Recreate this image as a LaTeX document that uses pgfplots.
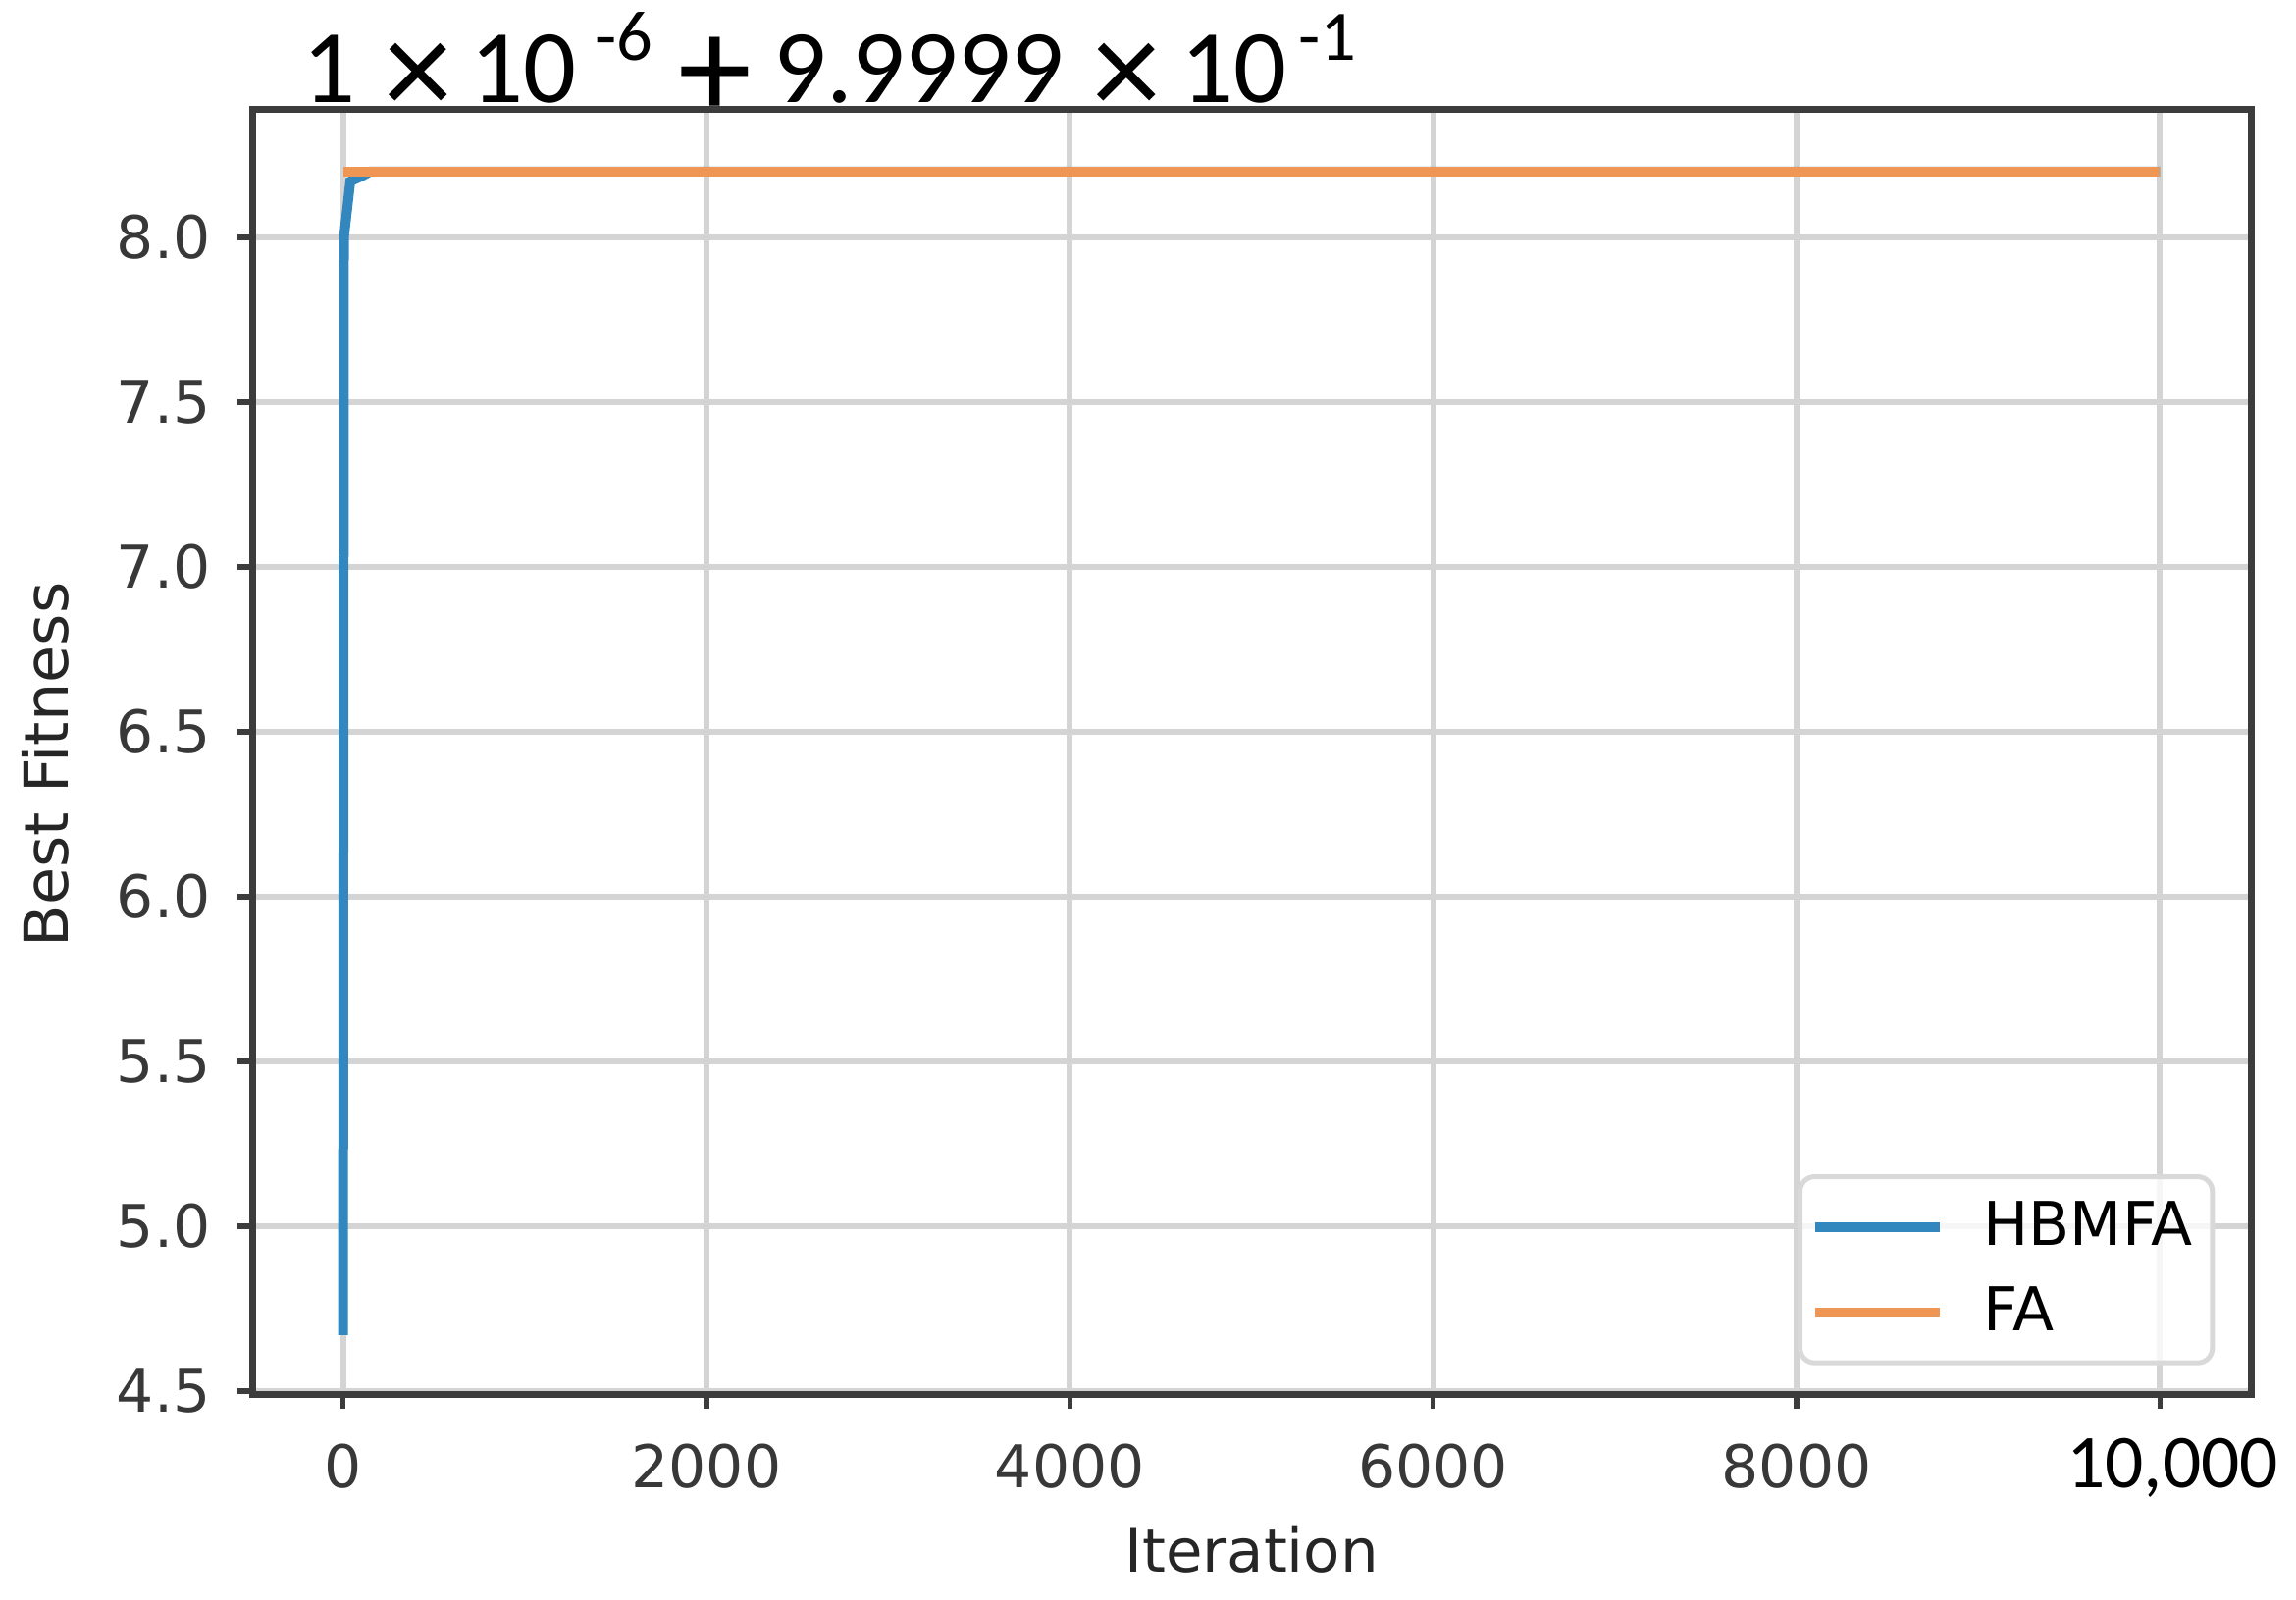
\documentclass[border=0pt]{standalone}
\usepackage{fontspec}
\setmainfont{DejaVu Sans}
\newfontfamily\carlito{Carlito}
\usepackage{pgfplots}
\pgfplotsset{compat=1.18}

\definecolor{hbmfa}{RGB}{50,135,190}
\definecolor{fa}{RGB}{240,150,85}
\definecolor{gridc}{RGB}{212,212,212}
\definecolor{framec}{RGB}{60,60,60}

% title pieces, placed at measured offsets
\newcommand\piece[2]{\rlap{\hspace{#1}#2}}
\newcommand\op[3]{\rlap{\hspace{#1}\makebox[0pt][c]{\raisebox{#3}{\fontsize{#2}{#2}\selectfont ×}}}}
\newcommand\plusop[1]{\rlap{\hspace{#1}\makebox[0pt][c]{\raisebox{-3.3pt}{\fontsize{30}{30}\selectfont +}}}}
\newcommand\supx[1]{\raisebox{8.5pt}{\carlito\fontsize{14.5}{15}\selectfont #1}}
\newcommand\ttl{{\carlito\fontsize{21.3}{22}\selectfont
  \piece{0pt}{1}%
  \op{23.6pt}{28}{-2.7pt}%
  \piece{34.3pt}{10}%
  \piece{59.6pt}{\supx{-6}}%
  \plusop{84.2pt}%
  \piece{96pt}{9.9999}%
  \op{168pt}{28}{-2.7pt}%
  \piece{179pt}{10}%
  \hspace{203pt}\supx{-1}}}

\begin{document}
\begin{tikzpicture}
\useasboundingbox (-51.4pt,-42pt) rectangle (416.6pt,284.2pt);
\begin{axis}[
    scale only axis,
    width=407.4pt, height=261.8pt,
    at={(0,0)}, anchor=south west,
    xmin=-500, xmax=10500,
    ymin=4.491, ymax=8.387,
    xtick={0,2000,4000,6000,8000,10000},
    xticklabels={0,2000,4000,6000,8000,{\hspace*{5pt}\carlito\fontsize{15.5}{16}\selectfont\color{black}10,000}},
    ytick={4.5,5.0,5.5,6.0,6.5,7.0,7.5,8.0},
    yticklabels={4.5,5.0,5.5,6.0,6.5,7.0,7.5,8.0},
    grid=major,
    grid style={gridc, line width=1.2pt},
    axis line style={framec, line width=1.4pt},
    tick align=outside, tick pos=left,
    major tick length=3pt,
    tick style={framec, line width=1.1pt},
    ticklabel style={font=\fontsize{12}{14}\selectfont, text=black!78},
    xticklabel style={anchor=base, yshift=-16pt},
    yticklabel style={anchor=east, xshift=-2pt},
    xlabel={Iteration},
    xlabel style={at={(axis description cs:0.5,-0.139)}, anchor=base,
        font=\fontsize{12.2}{14}\selectfont, text=black!85},
    ylabel={Best Fitness},
    ylabel style={at={(axis description cs:-0.0922,0.49)}, anchor=base,
        font=\fontsize{12.4}{14}\selectfont, text=black!85},
    title={\ttl},
    title style={at={(axis description cs:0.02455,1)}, anchor=base west,
        yshift=-4.5pt, inner sep=0pt},
    legend style={at={(axis description cs:0.7732,0.1711)}, anchor=north west,
        draw=black!15, line width=1pt, rounded corners=3pt,
        fill=white, fill opacity=0.8, text opacity=1,
        font=\fontsize{12.3}{14}\selectfont,
        inner xsep=2pt, inner ysep=3pt, row sep=3pt},
    legend cell align=left,
    legend image code/.code={\draw[#1] (0pt,0pt) -- (25.4pt,0pt); \path (31.4pt,0pt);},
]

\addplot[hbmfa, line width=2pt] coordinates {
(0,4.67) (5,8.0) (40,8.17) (100,8.185) (150,8.2) (10000,8.2)
};
\addlegendentry{HBMFA}

\addplot[fa, line width=2pt] coordinates {
(0,8.2) (10000,8.2)
};
\addlegendentry{FA}

\end{axis}
\end{tikzpicture}
\end{document}
